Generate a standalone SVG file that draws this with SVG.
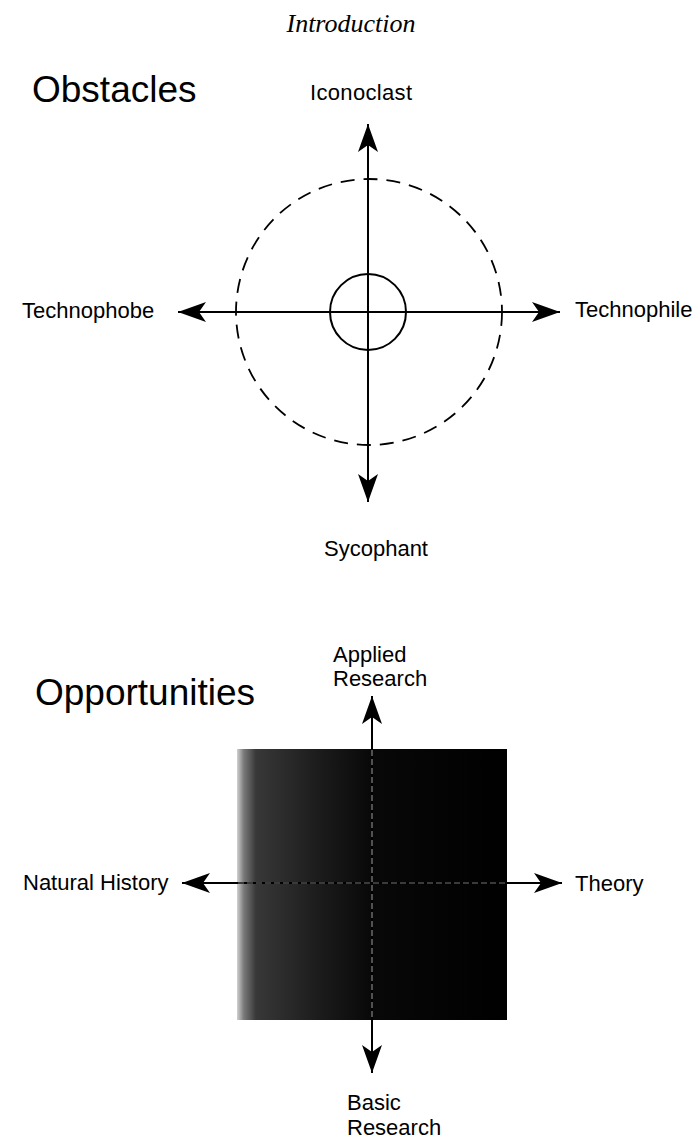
<svg xmlns="http://www.w3.org/2000/svg" width="699" height="1138" viewBox="0 0 699 1138">
  <style>
    .lbl { font-family: "Liberation Sans", Arial, sans-serif; font-size: 22px; fill: #000; }
    .title { font-family: "Liberation Sans", Arial, sans-serif; font-size: 37px; fill: #000; }
    .head { font-family: "Liberation Serif", "Times New Roman", serif; font-style: italic; font-size: 26px; fill: #000; }
    .axis { stroke: #000; stroke-width: 2; fill: none; marker-start: url(#ah); marker-end: url(#ah); }
  </style>
  <defs>
    <marker id="ah" markerUnits="userSpaceOnUse" markerWidth="30" markerHeight="22" refX="28" refY="10" orient="auto-start-reverse">
      <path d="M0,0 L28,10 L0,20 L7,10 Z" fill="#000"/>
    </marker>
    <linearGradient id="sq" x1="0" y1="0" x2="1" y2="0">
      <stop offset="0" stop-color="#d0d0d0"/>
      <stop offset="0.025" stop-color="#7a7a7a"/>
      <stop offset="0.07" stop-color="#383838"/>
      <stop offset="0.3" stop-color="#1c1c1c"/>
      <stop offset="0.5" stop-color="#080808"/>
      <stop offset="1" stop-color="#000"/>
    </linearGradient>
  </defs>

  <text class="head" x="351" y="32" text-anchor="middle">Introduction</text>

  <g id="obstacles">
    <text class="title" x="32" y="102">Obstacles</text>
    <g id="outer-circle">
      <circle cx="369" cy="312" r="133" fill="none" stroke="#000" stroke-width="1.8" stroke-dasharray="14 9"/>
    </g>
    <g id="inner-circle">
      <circle cx="368" cy="312" r="38" fill="none" stroke="#000" stroke-width="2"/>
    </g>
    <g id="connectors-top">
      <line class="axis" x1="368" y1="124" x2="368" y2="502"/>
      <line class="axis" x1="178" y1="312" x2="560" y2="312"/>
    </g>
    <g id="iconoclast"><text class="lbl" x="310" y="100" textLength="102">Iconoclast</text></g>
    <g id="technophobe"><text class="lbl" x="22" y="318">Technophobe</text></g>
    <g id="technophile"><text class="lbl" x="575" y="317">Technophile</text></g>
    <g id="sycophant"><text class="lbl" x="376" y="556" text-anchor="middle">Sycophant</text></g>
  </g>

  <g id="opportunities">
    <text class="title" x="35" y="705">Opportunities</text>
    <g id="square">
      <rect x="237" y="749" width="270" height="271" fill="url(#sq)"/>
    </g>
    <g id="connectors-bottom">
      <line class="axis" x1="372" y1="696" x2="372" y2="1073"/>
      <line class="axis" x1="182" y1="883" x2="562" y2="883"/>
      <line x1="372" y1="750" x2="372" y2="1019" stroke="#9a9a9a" stroke-width="1.5" stroke-dasharray="6 3" opacity="0.7"/>
      <line x1="238" y1="883" x2="506" y2="883" stroke="#9a9a9a" stroke-width="1.5" stroke-dasharray="6 3" opacity="0.5"/>
    </g>
    <g id="applied"><text class="lbl" x="333" y="662">Applied</text><text class="lbl" x="333" y="686">Research</text></g>
    <g id="natural-history"><text class="lbl" x="23" y="890">Natural History</text></g>
    <g id="theory"><text class="lbl" x="575" y="891">Theory</text></g>
    <g id="basic"><text class="lbl" x="347" y="1110">Basic</text><text class="lbl" x="347" y="1135">Research</text></g>
  </g>
</svg>
